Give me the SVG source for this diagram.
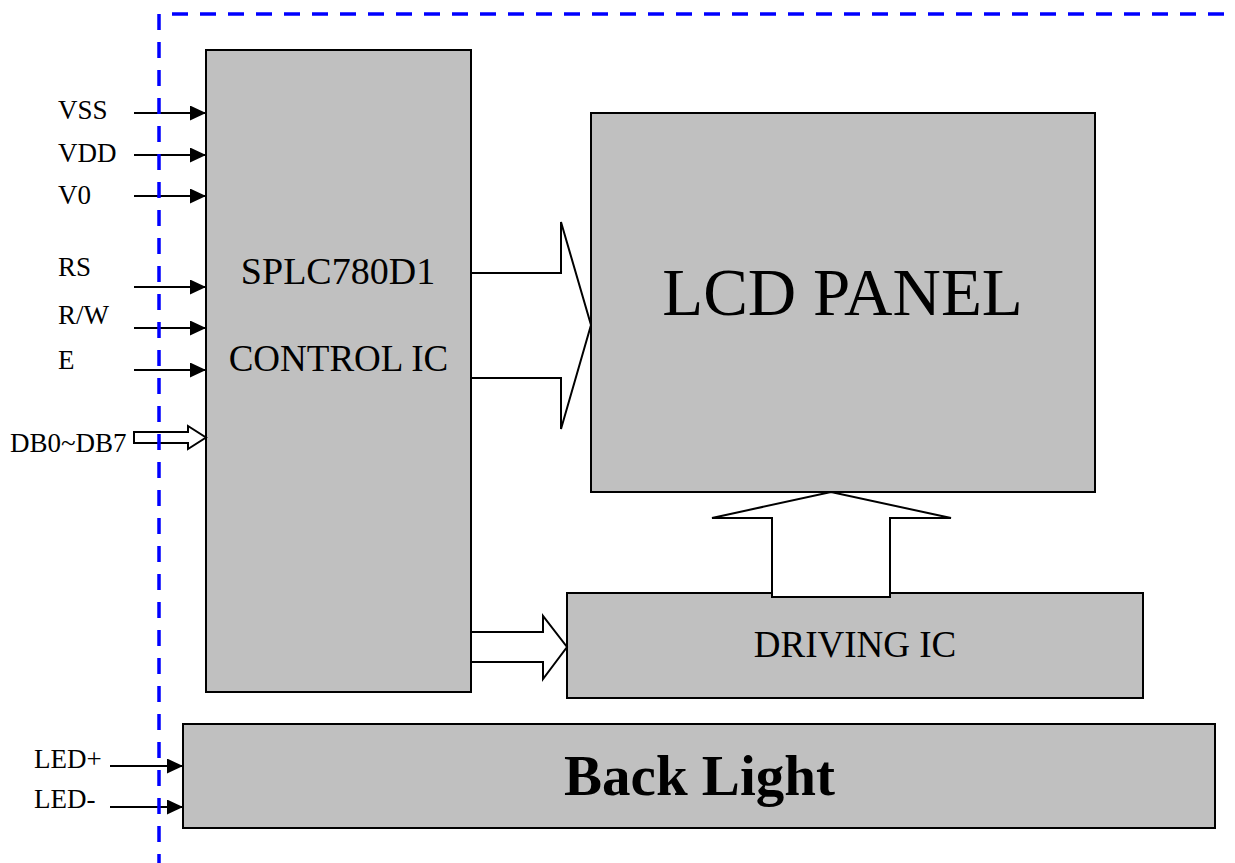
<svg xmlns="http://www.w3.org/2000/svg" width="1235" height="863" viewBox="0 0 1235 863">
<style>
.box{fill:#c0c0c0;stroke:#000;stroke-width:2}
.t{font-family:"Liberation Serif","Times New Roman",serif;fill:#000}
.lbl{font-size:27px}
.wire{stroke:#000;stroke-width:2;fill:none}
.hollow{fill:#fff;stroke:#000;stroke-width:2;stroke-linejoin:miter}
.dash{stroke:#0000ff;stroke-width:3.5;stroke-dasharray:16 12;fill:none}
</style>
<defs>
<marker id="ah" viewBox="0 0 16 15" refX="16" refY="7.5" markerWidth="16" markerHeight="15" markerUnits="userSpaceOnUse" orient="auto">
<path d="M0,0 L16,7.5 L0,15 Z" fill="#000"/>
</marker>
</defs>
<rect width="1235" height="863" fill="#fff"/>

<g id="control-ic">
<rect class="box" x="206" y="50" width="265" height="642"/>
<text class="t" x="338" y="284" font-size="38" text-anchor="middle">SPLC780D1</text>
<text class="t" x="338.5" y="371" font-size="37" text-anchor="middle">CONTROL IC</text>
</g>
<g id="lcd-panel">
<rect class="box" x="591" y="113" width="504" height="379"/>
<text class="t" x="842.5" y="315" font-size="67" text-anchor="middle">LCD PANEL</text>
</g>
<g id="driving-ic">
<rect class="box" x="567" y="593" width="576" height="105"/>
<text class="t" x="855" y="657" font-size="37" text-anchor="middle">DRIVING IC</text>
</g>
<g id="back-light">
<rect class="box" x="183" y="724" width="1032" height="104"/>
<text class="t" x="699.5" y="795" font-size="57" font-weight="bold" text-anchor="middle">Back Light</text>
</g>

<g id="labels">
<text class="t lbl" x="58" y="119">VSS</text>
<text class="t lbl" x="58" y="162">VDD</text>
<text class="t lbl" x="58" y="204">V0</text>
<text class="t lbl" x="58" y="276">RS</text>
<text class="t lbl" x="58" y="324">R/W</text>
<text class="t lbl" x="58" y="369">E</text>
<text class="t lbl" x="10" y="452">DB0~DB7</text>
<text class="t lbl" x="34" y="768">LED+</text>
<text class="t lbl" x="34" y="808">LED-</text>
</g>

<g id="connectors">
<line class="wire" x1="134" y1="113" x2="206" y2="113" marker-end="url(#ah)"/>
<line class="wire" x1="134" y1="155" x2="206" y2="155" marker-end="url(#ah)"/>
<line class="wire" x1="134" y1="196" x2="206" y2="196" marker-end="url(#ah)"/>
<line class="wire" x1="134" y1="287" x2="206" y2="287" marker-end="url(#ah)"/>
<line class="wire" x1="134" y1="328" x2="206" y2="328" marker-end="url(#ah)"/>
<line class="wire" x1="134" y1="370" x2="206" y2="370" marker-end="url(#ah)"/>
<line class="wire" x1="110" y1="766" x2="183" y2="766" marker-end="url(#ah)"/>
<line class="wire" x1="110" y1="807" x2="183" y2="807" marker-end="url(#ah)"/>
<polygon class="hollow" points="134,432 188,432 188,426 206,437.5 188,449 188,443 134,443"/>
<polygon class="hollow" points="471,273 561,273 561,222 591,325 561,429 561,378 471,378"/>
<polygon class="hollow" points="471,632 543,632 543,616 567,647 543,679 543,662 471,662"/>
<polygon class="hollow" points="772,597 772,518 712,518 831,492 951,518 890,518 890,597"/>
</g>

<g id="boundary">
<line class="dash" x1="172" y1="14" x2="1235" y2="14"/>
<line class="dash" x1="159" y1="14" x2="159" y2="863"/>
</g>
</svg>
